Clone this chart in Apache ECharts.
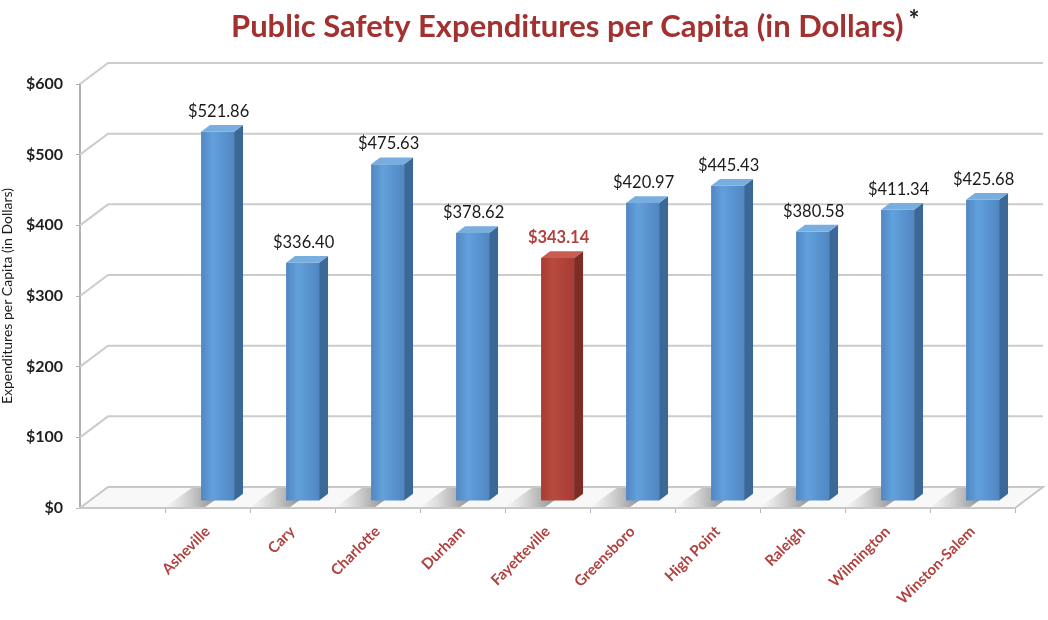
<!DOCTYPE html>
<html><head><meta charset="utf-8">
<script src="https://cdn.jsdelivr.net/npm/echarts@6/dist/echarts.min.js"></script>
<style>html,body{margin:0;padding:0;background:#fff}#c{width:1048px;height:620px}</style>
</head><body><div id="c"></div>
<script>
const categories = ['Asheville','Cary','Charlotte','Durham','Fayetteville','Greensboro','High Point','Raleigh','Wilmington','Winston-Salem'];
const values = [521.86, 336.40, 475.63, 378.62, 343.14, 420.97, 445.43, 380.58, 411.34, 425.68];
const highlightCity = 'Fayetteville';
const yTicks = [0, 100, 200, 300, 400, 500, 600];
const titleText = 'Public Safety Expenditures per Capita (in Dollars)';
const yAxisTitle = 'Expenditures per Capita (in Dollars)';

const DX = 28, DY = -21;   // wall depth offset
const BF = 0.36;           // bar front depth fraction
const BD = 0.32;           // bar depth fraction
const BW = 33;             // bar width
const FONT = 'Lato, "Open Sans", sans-serif';

function renderWalls(params, api) {
  const p0 = api.coord([0, 0]);
  const p1 = api.coord([1, 0]);
  const x0 = p0[0], x1 = p1[0], y0 = p0[1];
  const children = [];
  yTicks.forEach(function (t) {
    if (t === yTicks[0]) return;
    const y = api.coord([0, t])[1];
    children.push({
      type: 'polyline',
      shape: { points: [[x0, y], [x0 + DX, y + DY], [x1 + DX, y + DY]] },
      style: { stroke: '#cccccc', lineWidth: 2, fill: null }
    });
  });
  children.push({
    type: 'polygon',
    shape: { points: [[x0, y0], [x1, y0], [x1 + DX, y0 + DY], [x0 + DX, y0 + DY]] },
    style: { fill: '#f8f8f8', stroke: '#c8c8c8', lineWidth: 2 }
  });
  return { type: 'group', children: children };
}

function renderBar(params, api) {
  const i = api.value(0), v = api.value(1);
  const base = api.coord([i, 0]);
  const top = api.coord([i, v]);
  const fx = DX * BF, fy = DY * BF;
  const sx = DX * BD, sy = DY * BD;
  const xl = base[0] - BW / 2 + fx, xr = xl + BW;
  const yb = base[1] + fy, yt = top[1] + fy;
  const hi = categories[i] === highlightCity;
  const c = hi ? { f1: '#b84a40', f2: '#a83b33', side: '#7e2c26', top: '#c95d52' }
               : { f1: '#62a0dc', f2: '#5187c3', side: '#3b6997', top: '#78addf' };
  const children = [];
  // shadow on floor
  children.push({
    type: 'polygon',
    shape: { points: [[xl - 36, base[1] - 1], [xl + 4, base[1] - 1], [xl + 4 + DX * 0.95, base[1] + DY * 0.95], [xl - 36 + DX * 0.95, base[1] + DY * 0.95]] },
    style: {
      fill: new echarts.graphic.LinearGradient(0, 0, 1, 0, [
        { offset: 0, color: 'rgba(150,150,150,0)' },
        { offset: 0.55, color: 'rgba(105,105,105,0.5)' },
        { offset: 1, color: 'rgba(70,70,70,0.8)' }
      ])
    }
  });
  // side face
  children.push({
    type: 'polygon',
    shape: { points: [[xr, yb], [xr + sx, yb + sy], [xr + sx, yt + sy], [xr, yt]] },
    style: { fill: c.side }
  });
  // front face
  children.push({
    type: 'rect',
    shape: { x: xl, y: yt, width: BW, height: yb - yt },
    style: {
      fill: new echarts.graphic.LinearGradient(0, 0, 1, 0, [
        { offset: 0, color: c.f2 },
        { offset: 0.35, color: c.f1 },
        { offset: 1, color: c.f2 }
      ])
    }
  });
  // top face
  children.push({
    type: 'polygon',
    shape: { points: [[xl, yt], [xr, yt], [xr + sx, yt + sy], [xl + sx, yt + sy]] },
    style: { fill: c.top }
  });
  // value label
  children.push({
    type: 'text',
    style: {
      text: '$' + v.toFixed(2),
      x: (xl + xr) / 2 + 1,
      y: yt + sy - 5,
      align: 'center',
      verticalAlign: 'bottom',
      fill: hi ? '#b0413e' : '#1a1a1a',
      font: (hi ? 'bold ' : '') + '16.5px ' + FONT
    }
  });
  return { type: 'group', children: children };
}

const chart = echarts.init(document.getElementById('c'), null, { renderer: 'canvas' });
chart.setOption({
  backgroundColor: '#ffffff',
  animation: false,
  title: {
    text: '{t|' + titleText + '} {s|*}',
    left: 226,
    top: 3,
    textStyle: {
      rich: {
        t: { fontFamily: FONT, fontSize: 31, fontWeight: 'bold', color: '#a23230' },
        s: { fontFamily: FONT, fontSize: 26, fontWeight: 'bold', color: '#222', verticalAlign: 'top', padding: [0, 0, 12, 0] }
      }
    }
  },
  grid: [
    { left: 80, right: 33, top: 84, bottom: 112, containLabel: false, outerBoundsMode: 'none' },
    { left: 165, right: 33, top: 84, bottom: 112, containLabel: false, outerBoundsMode: 'none' }
  ],
  xAxis: [
    {
      gridIndex: 0, type: 'value', min: 0, max: 1,
      axisLine: { show: true, lineStyle: { color: '#b5b5b5', width: 2 } },
      axisTick: { show: false }, axisLabel: { show: false }, splitLine: { show: false }
    },
    {
      gridIndex: 1, type: 'category', data: categories,
      axisLine: { show: true, lineStyle: { color: '#b5b5b5', width: 2 } },
      axisTick: { show: true, length: 5, lineStyle: { color: '#b5b5b5' } },
      axisLabel: {
        interval: 0, rotate: 45, margin: 21,
        color: '#b0413e', fontWeight: 'bold', fontSize: 15, fontFamily: FONT
      },
      splitLine: { show: false }
    }
  ],
  yAxis: [
    {
      gridIndex: 0, type: 'value', min: 0, max: 600, interval: 100,
      name: yAxisTitle, nameLocation: 'middle', nameGap: 61,
      nameTextStyle: { fontSize: 14, color: '#1a1a1a', fontFamily: FONT },
      axisLine: { show: true, lineStyle: { color: '#b0b0b0', width: 2 } },
      axisTick: { show: true, length: 4, lineStyle: { color: '#b0b0b0' } },
      axisLabel: { formatter: function (v) { return '$' + v; }, fontSize: 16, fontWeight: 'bold', color: '#1e1e1e', fontFamily: FONT, margin: 17 },
      splitLine: { show: false }
    },
    {
      gridIndex: 1, type: 'value', min: 0, max: 600, interval: 100, show: false,
      splitLine: { show: false }
    }
  ],
  series: [
    {
      type: 'custom', xAxisIndex: 0, yAxisIndex: 0, z: 1,
      renderItem: renderWalls, data: [[0, 0]], silent: true
    },
    {
      type: 'custom', xAxisIndex: 1, yAxisIndex: 1, z: 3,
      renderItem: renderBar,
      encode: { x: 0, y: 1 },
      data: values.map(function (v, i) { return [i, v]; })
    }
  ]
});
</script>
</body></html>
